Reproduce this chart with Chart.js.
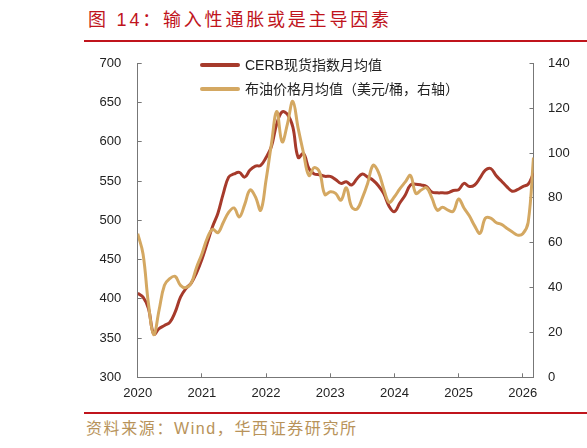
<!DOCTYPE html>
<html lang="zh-CN">
<head>
<meta charset="utf-8">
<title>图 14：输入性通胀或是主导因素</title>
<script src="https://cdn.jsdelivr.net/npm/chart.js@4.4.1/dist/chart.umd.min.js"></script>
<style>
  html, body { margin: 0; padding: 0; background: #fff; }
  body {
    width: 587px; height: 448px; position: relative; overflow: hidden;
    font-family: "Liberation Sans", "Noto Sans CJK SC", sans-serif;
  }
  .title {
    position: absolute; left: 88px; top: 8px;
    font: 18px/24px "Liberation Sans", "Noto Sans CJK SC", sans-serif;
    color: #c0141c; letter-spacing: 2.8px; white-space: nowrap;
  }
  .rule { position: absolute; left: 84px; width: 503px; height: 2px; background: #c0141c; }
  .source {
    position: absolute; left: 86px; top: 419px;
    font: 16px/20px "Liberation Sans", "Noto Sans CJK SC", sans-serif;
    color: #b8935a; letter-spacing: 1.6px; white-space: nowrap;
  }
  .chart-box { position: absolute; left: 0; top: 35px; width: 587px; height: 375px; }
  .legend { position: absolute; left: 200px; top: 53px; }
  .legend-item {
    height: 24px; line-height: 24px; font-size: 14px; color: #222;
    white-space: nowrap; display: flex; align-items: center;
  }
  .legend-line { width: 40px; height: 4px; margin-right: 5px; border-radius: 2px; }
</style>
</head>
<body>

<div class="title">图 14：输入性通胀或是主导因素</div>
<div class="rule" style="top:40px"></div>

<div class="chart-box"><canvas id="mainChart"></canvas></div>
<div class="legend" id="legend"></div>

<div class="rule" style="top:412px"></div>
<div class="source">资料来源：Wind，华西证券研究所</div>

<script>
// ─────────────────────────────────────────────
// Ma'lumotlar (2020-01 … 2026-03, oyma-oy)
// ─────────────────────────────────────────────

const yearTicks  = ['2020', '2021', '2022', '2023', '2024', '2025', '2026'];
const leftTicks  = [300, 350, 400, 450, 500, 550, 600, 650, 700];
const rightTicks = [0, 20, 40, 60, 80, 100, 120, 140];

const seriesNames  = ['CERB现货指数月均值', '布油价格月均值（美元/桶，右轴）'];
const seriesColors = ['#a63a2b', '#d4a862'];

// CERB现货指数月均值 (chap o'q)
const cerb = [
  407, 402, 388, 355, 362, 366, 370, 383, 402, 413, 420, 433,
  450, 471, 492, 509, 534, 555, 559, 561, 555, 564, 569, 570,
  580, 594, 623, 638, 635, 619, 580, 585, 566, 559, 558, 556,
  556, 552, 547, 549, 545, 553, 559, 555, 551, 544, 534, 518,
  511, 522, 532, 545, 546, 545, 543, 536, 535, 535, 535, 538,
  539, 547, 543, 545, 554, 564, 566, 557, 550, 543, 537, 539,
  543, 546, 560
];

// 布油价格月均值 (o'ng o'q, USD/barrel)
const brent = [
  64, 55, 33, 19, 30, 41, 44, 45, 41, 40, 42, 49,
  55, 62, 66, 64.5, 69, 73.5, 75.5, 71.5, 77, 83.5, 80.5, 74.5,
  88, 104, 118.5, 105, 113, 123, 111, 100, 90, 93.5, 91.5, 81.5,
  82.7, 82, 79, 84.5, 76, 75, 80, 86.5, 94.5, 91.5, 84, 78,
  80.5, 84, 87, 90, 82, 83.5, 84.5, 80, 74.5, 75.8, 74.5, 74,
  79.5, 75.5, 72, 67.5, 64.2, 71, 71, 69, 68.2, 66.5, 64.9, 63.4,
  64, 69, 98
];

const toPoints = arr => arr.map((v, i) => ({ x: i, y: v }));

// ─────────────────────────────────────────────
// Chart
// ─────────────────────────────────────────────

const axisColor = '#777';
const tickFont  = { family: '"Liberation Sans", "Noto Sans CJK SC", sans-serif', size: 13 };

const chart = new Chart(document.getElementById('mainChart'), {
  type: 'line',
  data: {
    datasets: [
      {
        label          : seriesNames[0],
        data           : toPoints(cerb),
        yAxisID        : 'y',
        borderColor    : seriesColors[0],
        backgroundColor: seriesColors[0],
        borderWidth    : 3,
        pointRadius    : 0,
        tension        : 0.4,
        order          : 1,
      },
      {
        label          : seriesNames[1],
        data           : toPoints(brent),
        yAxisID        : 'y1',
        borderColor    : seriesColors[1],
        backgroundColor: seriesColors[1],
        borderWidth    : 3,
        pointRadius    : 0,
        tension        : 0.4,
        order          : 0,
      }
    ]
  },
  options: {
    responsive: true,
    maintainAspectRatio: false,
    animation: false,
    layout: { padding: { top: 15.5, left: 0, right: 0, bottom: 0 } },
    plugins: {
      legend : { display: false },
      tooltip: { enabled: false }
    },
    scales: {
      x: {
        type: 'linear',
        min : 0,
        max : 74,
        // yillar boshida tick (har 12 oy)
        afterBuildTicks: s => { s.ticks = yearTicks.map((_, i) => ({ value: i * 12 })); },
        afterFit: s => { s.height = 32.7; },
        ticks : {
          autoSkip: false,
          maxRotation: 0,
          padding : 12.5,
          color   : '#222',
          font    : tickFont,
          callback: v => yearTicks[v / 12] || ''
        },
        grid  : { drawOnChartArea: false, drawTicks: true, tickLength: -4, color: axisColor },
        border: { display: true, color: axisColor, width: 1 }
      },
      y: {
        position: 'left',
        min: leftTicks[0],
        max: leftTicks[leftTicks.length - 1],
        afterFit: s => { s.width = 137.7; },
        ticks : { stepSize: 50, padding: 20.5, color: '#222', font: tickFont },
        grid  : { drawOnChartArea: false, drawTicks: true, tickLength: -4, color: axisColor },
        border: { display: true, color: axisColor, width: 1 }
      },
      y1: {
        position: 'right',
        min: rightTicks[0],
        max: rightTicks[rightTicks.length - 1],
        afterFit: s => { s.width = 53.5; },
        ticks : { stepSize: 20, padding: 18.5, color: '#222', font: tickFont },
        grid  : { drawOnChartArea: false, drawTicks: true, tickLength: -4, color: axisColor },
        border: { display: true, color: axisColor, width: 1 }
      }
    }
  }
});

// ─────────────────────────────────────────────
// Legenda (HTML)
// ─────────────────────────────────────────────

const legendBox = document.getElementById('legend');
chart.data.datasets.forEach(ds => {
  const row = document.createElement('div');
  row.className = 'legend-item';
  row.innerHTML = `<span class="legend-line" style="background:${ds.borderColor}"></span><span>${ds.label}</span>`;
  legendBox.appendChild(row);
});
</script>
</body>
</html>
